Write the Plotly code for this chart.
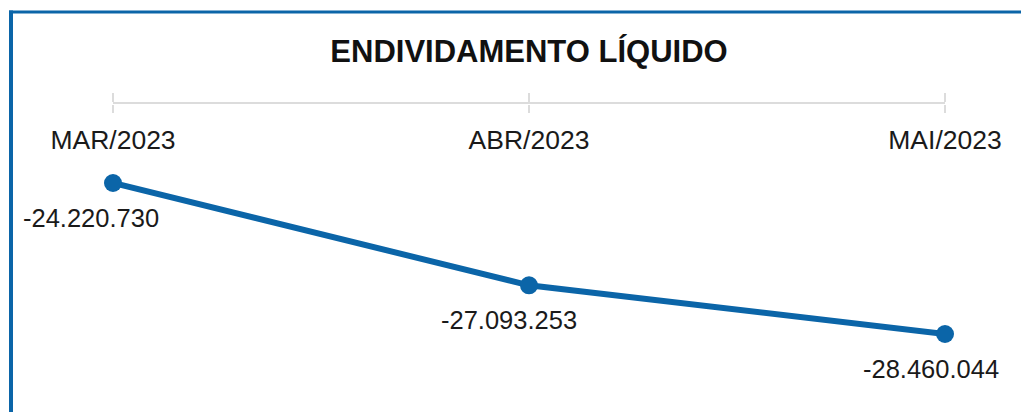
import plotly.graph_objects as go

categories = ["MAR/2023", "ABR/2023", "MAI/2023"]
values = [-24220730, -27093253, -28460044]
value_labels = ["-24.220.730", "-27.093.253", "-28.460.044"]
title_text = "ENDIVIDAMENTO LÍQUIDO"

BLUE = "#0b65a8"
GRID = "#dcdcdc"
FONT = "Liberation Sans"

OFF = 8  # page body margin offset
W, H = 1029 - OFF, 412 - OFF
ML, MT, MB = 113 - OFF, 104 - OFF, 0
MR = W - (945 - OFF)
pw, ph = W - ML - MR, H - MT - MB

def px_x(px):
    return (px - OFF - ML) / pw

def px_y(py):
    return (H - MB - (py - OFF)) / ph

xi = list(range(len(categories)))

fig = go.Figure()
fig.add_trace(go.Scatter(
    x=xi, y=values, mode="lines+markers",
    line=dict(color=BLUE, width=6),
    marker=dict(color=BLUE, size=18),
    cliponaxis=False, hoverinfo="skip", showlegend=False,
))
# helper trace for the second axis (downward ticks + labels)
fig.add_trace(go.Scatter(
    x=xi, y=values, xaxis="x2", mode="markers",
    marker=dict(opacity=0), hoverinfo="skip", showlegend=False,
))

xshifts = [-22, -20, -14]
for i, (v, t) in enumerate(zip(values, value_labels)):
    fig.add_annotation(x=i, y=v, text=t, showarrow=False,
                       xshift=xshifts[i], yshift=-35,
                       font=dict(family=FONT, size=25.5, color="#1a1a1a"))

axis_common = dict(range=[0, 2], showgrid=False, zeroline=False,
                   tickmode="array", tickvals=xi, tickcolor=GRID, tickwidth=2,
                   fixedrange=True)

fig.update_layout(
    width=W, height=H,
    margin=dict(l=ML, r=MR, t=MT, b=MB),
    paper_bgcolor="white", plot_bgcolor="white",
    title=dict(text="<b>" + title_text + "</b>", x=0.5, xref="paper",
               y=1 - (51 - OFF) / H, yref="container", yanchor="middle", xanchor="center",
               font=dict(family=FONT, size=31, color="#111111")),
    xaxis=dict(**axis_common, side="top", ticktext=["", "", ""], ticks="outside",
               ticklen=9, showline=True, linecolor=GRID, linewidth=2,
               showticklabels=False),
    xaxis2=dict(**axis_common, overlaying="x", side="bottom", anchor="free",
                position=1.0, ticktext=categories, ticks="outside", ticklen=8,
                showline=False, ticklabelstandoff=4,
                tickfont=dict(family=FONT, size=26.5, color="#1a1a1a")),
    yaxis=dict(range=[-30.65e6, -22.003e6], visible=False, fixedrange=True,
               domain=[0, 1]),
    shapes=[
        dict(type="line", xref="paper", yref="paper",
             x0=px_x(11), x1=px_x(11), y0=px_y(10.5), y1=px_y(412 + 2),
             line=dict(color=BLUE, width=4)),
        dict(type="line", xref="paper", yref="paper",
             x0=px_x(9), x1=px_x(1029 + 2), y0=px_y(12), y1=px_y(12),
             line=dict(color=BLUE, width=3)),
    ],
)

fig.write_html("out.html")
